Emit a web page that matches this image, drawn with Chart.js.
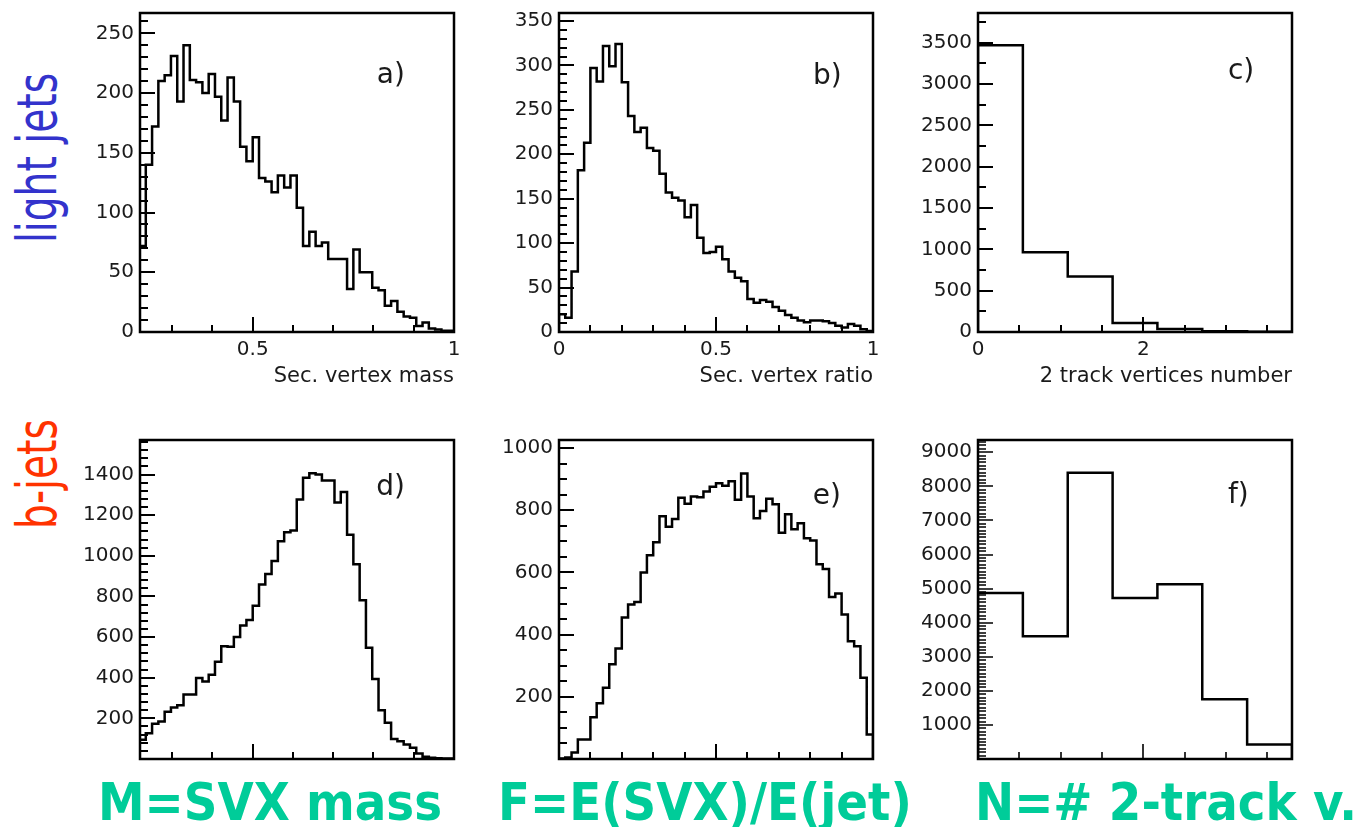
<!DOCTYPE html>
<html>
<head>
<meta charset="utf-8">
<script src="https://cdn.jsdelivr.net/npm/chart.js@4.4.0/dist/chart.umd.min.js"></script>
<style>
  html, body { margin: 0; padding: 0; background: #fff; }
  #page { position: relative; width: 1361px; height: 827px; overflow: hidden; }
  canvas { position: absolute; }
  .rowlab {
    position: absolute;
    font: 56px "DejaVu Sans";
    line-height: 1;
    white-space: nowrap;
    transform: translate(-50%, -50%) rotate(-90deg) scaleX(0.7);
  }
  .foot {
    position: absolute;
    top: 776px;
    font: bold 52px "DejaVu Sans Condensed", "DejaVu Sans";
    line-height: 1;
    color: #00cc99;
    white-space: nowrap;
  }
</style>
</head>
<body>
<div id="page">
  <div class="rowlab" style="left:37px; top:158px; color:#3333cc">light jets</div>
  <div class="rowlab" style="left:37px; top:474px; color:#ff3300">b-jets</div>

  <canvas id="chA"></canvas>
  <canvas id="chB"></canvas>
  <canvas id="chC"></canvas>
  <canvas id="chD"></canvas>
  <canvas id="chE"></canvas>
  <canvas id="chF"></canvas>

  <div class="foot" style="left:98px">M=SVX mass</div>
  <div class="foot" style="left:498px">F=E(SVX)/E(jet)</div>
  <div class="foot" style="left:975px">N=# 2-track v.</div>
</div>

<script>
// binning
const massStart = 0.21875, massBin = 1 / 64;
const ratioStart = 0, ratioBin = 0.02;
const trackEdges = [0, 0.543, 1.086, 1.629, 2.171, 2.714, 3.257, 3.8];

// light jets
const lightMass = [72, 140, 172, 210, 215, 231, 193, 240, 211, 209,
    200, 216, 197, 177, 213, 193, 155, 143, 163, 129,
    126, 117, 131, 121, 131, 104, 72, 84, 72, 75,
    61, 61, 61, 36, 69, 50, 50, 37, 35, 22,
    26, 17, 13, 12, 5, 8, 3, 2, 1, 1];
const lightRatio = [20, 16, 68, 182, 213, 297, 282, 322, 299, 324,
    281, 243, 225, 230, 207, 204, 178, 157, 151, 148,
    129, 143, 106, 89, 90, 96, 82, 68, 61, 57,
    37, 33, 36, 34, 28, 24, 19, 16, 13, 11,
    13, 13, 12, 10, 7, 5, 9, 7, 3, 1];
const lightTracks = [3470, 964, 673, 108, 36, 8, 3];

// b-jets
const bMass = [95, 127, 173, 184, 232, 253, 265, 318, 318, 399,
    382, 415, 479, 555, 552, 600, 657, 684, 754, 859,
    911, 975, 1072, 1116, 1125, 1277, 1384, 1406, 1400, 1371,
    1371, 1263, 1314, 1104, 959, 781, 547, 394, 240, 179,
    98, 87, 71, 55, 27, 11, 6, 4, 3, 2];
const bRatio = [2, 5, 21, 63, 63, 134, 179, 229, 305, 355,
    455, 497, 505, 600, 655, 697, 781, 747, 772, 840,
    821, 844, 842, 860, 876, 887, 879, 893, 834, 918,
    844, 774, 798, 837, 819, 728, 787, 739, 758, 710,
    703, 626, 611, 521, 532, 465, 379, 363, 261, 79];
const bTracks = [4870, 3600, 8400, 4725, 5130, 1750, 423];

// tick labels
const massTicksX = [0.5, 1];
const ratioTicksX = [0, 0.5, 1];
const trackTicksX = [0, 2];
const ticksA = [0, 50, 100, 150, 200, 250];
const ticksB = [0, 50, 100, 150, 200, 250, 300, 350];
const ticksC = [0, 500, 1000, 1500, 2000, 2500, 3000, 3500];
const ticksD = [200, 400, 600, 800, 1000, 1200, 1400];
const ticksE = [200, 400, 600, 800, 1000];
const ticksF = [1000, 2000, 3000, 4000, 5000, 6000, 7000, 8000, 9000];

Chart.defaults.font.family = "DejaVu Sans";
Chart.defaults.color = "#1a1a1a";

function edgesOf(start, width, n) {
    let e = [];
    for (let i = 0; i <= n; i++) e.push(start + i * width);
    return e;
}

// histogram outline: one point per bin edge, drawn stepped
function stepPoints(edges, values) {
    let n = values.length,
        pts = [{x: edges[0], y: 0}];
    for (let i = 0; i < n; i++) pts.push({x: edges[i], y: values[i]});
    pts.push({x: edges[n], y: values[n - 1]});
    pts.push({x: edges[n], y: 0});
    return pts;
}

function tickRun(min, max, minor, major, cb) {
    for (let k = Math.ceil(min / minor - 1e-9); k * minor <= max + 1e-9; k++) {
        let v = k * minor,
            r = v / major;
        cb(v, Math.abs(r - Math.round(r)) < 1e-6);
    }
}

// box + inward ticks (ROOT style) + panel tag
const frameTicks = {
    id: "frameTicks",
    afterDraw(chart, args, o) {
        let ctx = chart.ctx, a = chart.chartArea,
            x = chart.scales.x, y = chart.scales.y;
        ctx.save();
        ctx.strokeStyle = "#000";
        ctx.lineWidth = o.tickWidth;
        ctx.beginPath();
        tickRun(y.min, y.max, o.yMinor, o.yMajor, function (v, big) {
            let py = Math.round(y.getPixelForValue(v));
            ctx.moveTo(a.left, py);
            ctx.lineTo(a.left + (big ? 15 : 8), py);
        });
        tickRun(x.min, x.max, o.xMinor, o.xMajor, function (v, big) {
            let px = Math.round(x.getPixelForValue(v));
            ctx.moveTo(px, a.bottom);
            ctx.lineTo(px, a.bottom - (big ? 15 : 7));
        });
        ctx.stroke();
        ctx.lineWidth = 2.5;
        ctx.strokeRect(a.left, a.top, a.right - a.left, a.bottom - a.top);
        ctx.fillStyle = "#1a1a1a";
        ctx.font = "28px 'DejaVu Sans'";
        ctx.textBaseline = "alphabetic";
        ctx.fillText(o.tag, a.left + o.tagX * (a.right - a.left), a.top + o.tagY * (a.bottom - a.top));
        ctx.restore();
    }
};

const AXW = 70, PADT = 14, PADR = 20, FW = 314, FH = 323;

function makePanel(id, p) {
    let xh = p.xTitle ? 57 : 22,
        cv = document.getElementById(id);
    cv.width = AXW + FW + PADR;
    cv.height = PADT + FH + xh;
    cv.style.left = (p.left - AXW) + "px";
    cv.style.top = (p.top - PADT) + "px";

    return new Chart(cv, {
        type: "line",
        data: {
            datasets: [{
                data: stepPoints(p.edges, p.values),
                stepped: "before",
                borderColor: "#000",
                borderWidth: 2.5,
                pointRadius: 0,
                fill: false,
                tension: 0
            }]
        },
        options: {
            responsive: false,
            animation: false,
            devicePixelRatio: 1,
            events: [],
            layout: {padding: {top: PADT, right: PADR, left: 0, bottom: 0}},
            plugins: {
                legend: {display: false},
                tooltip: {enabled: false},
                frameTicks: {
                    xMinor: p.xMinor, xMajor: p.xMajor,
                    yMinor: p.yMinor, yMajor: p.yMajor,
                    tickWidth: p.tickWidth || 2,
                    tag: p.tag, tagX: p.tagX, tagY: p.tagY
                }
            },
            scales: {
                x: {
                    type: "linear",
                    min: p.xMin, max: p.xMax,
                    border: {display: false},
                    grid: {display: false, drawTicks: false},
                    ticks: {
                        display: !!p.xTicks,
                        autoSkip: false, maxRotation: 0, padding: 6,
                        font: {size: 20},
                        callback: v => String(v)
                    },
                    afterBuildTicks: s => { s.ticks = (p.xTicks || []).map(v => ({value: v})); },
                    afterFit: s => { s.height = xh; },
                    title: {
                        display: !!p.xTitle, text: p.xTitle || "",
                        align: "end", font: {size: 21},
                        padding: {top: 0, bottom: 0}
                    }
                },
                y: {
                    min: 0, max: p.yMax,
                    border: {display: false},
                    grid: {display: false, drawTicks: false},
                    ticks: {
                        autoSkip: false, padding: 6,
                        font: {size: 20},
                        callback: v => String(v)
                    },
                    afterBuildTicks: s => { s.ticks = p.yTicks.map(v => ({value: v})); },
                    afterFit: s => { s.width = AXW; }
                }
            }
        },
        plugins: [frameTicks]
    });
}

makePanel("chA", {
    left: 140, top: 9, edges: edgesOf(massStart, massBin, lightMass.length), values: lightMass,
    xMin: 0.22, xMax: 1, yMax: 267, xTicks: massTicksX, yTicks: ticksA,
    xMinor: 0.1, xMajor: 0.5, yMinor: 10, yMajor: 50,
    xTitle: "Sec. vertex mass", tag: "a)", tagX: 0.754, tagY: 0.22
});
makePanel("chB", {
    left: 559, top: 9, edges: edgesOf(ratioStart, ratioBin, lightRatio.length), values: lightRatio,
    xMin: 0, xMax: 1, yMax: 359, xTicks: ratioTicksX, yTicks: ticksB,
    xMinor: 0.1, xMajor: 0.5, yMinor: 10, yMajor: 50,
    xTitle: "Sec. vertex ratio", tag: "b)", tagX: 0.809, tagY: 0.223
});
makePanel("chC", {
    left: 978, top: 9, edges: trackEdges, values: lightTracks,
    xMin: 0, xMax: 3.8, yMax: 3860, xTicks: trackTicksX, yTicks: ticksC,
    xMinor: 0.5, xMajor: 2, yMinor: 250, yMajor: 500,
    xTitle: "2 track vertices number", tag: "c)", tagX: 0.796, tagY: 0.207
});
makePanel("chD", {
    left: 140, top: 436, edges: edgesOf(massStart, massBin, bMass.length), values: bMass,
    xMin: 0.22, xMax: 1, yMax: 1570, yTicks: ticksD,
    xMinor: 0.1, xMajor: 0.5, yMinor: 40, yMajor: 200,
    tag: "d)", tagX: 0.752, tagY: 0.172
});
makePanel("chE", {
    left: 559, top: 436, edges: edgesOf(ratioStart, ratioBin, bRatio.length), values: bRatio,
    xMin: 0, xMax: 1, yMax: 1026, yTicks: ticksE,
    xMinor: 0.1, xMajor: 0.5, yMinor: 50, yMajor: 200,
    tag: "e)", tagX: 0.808, tagY: 0.2
});
makePanel("chF", {
    left: 978, top: 436, edges: trackEdges, values: bTracks,
    xMin: 0, xMax: 3.8, yMax: 9360, yTicks: ticksF,
    xMinor: 0.5, xMajor: 2, yMinor: 100, yMajor: 1000, tickWidth: 1.6,
    tag: "f)", tagX: 0.796, tagY: 0.198
});
</script>
</body>
</html>
